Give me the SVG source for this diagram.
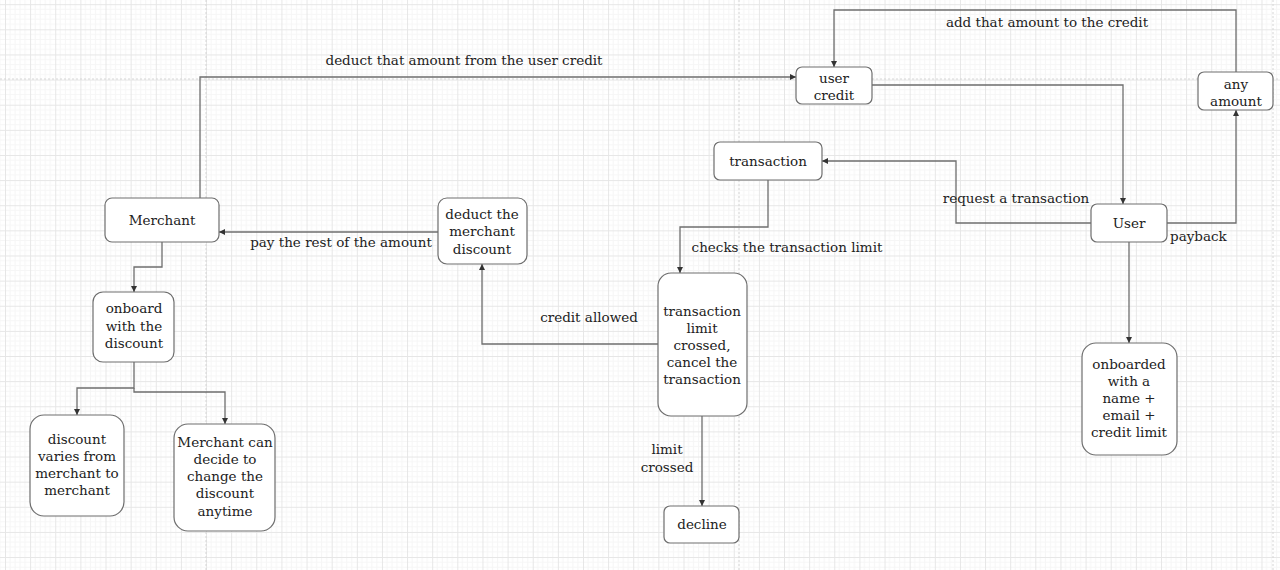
<svg xmlns="http://www.w3.org/2000/svg" width="1280" height="570" viewBox="0 0 1280 570">
<style>
.box{fill:#fff;stroke:#6e6e6e;stroke-width:1.2}
.t{font-family:"DejaVu Serif","Liberation Serif",serif;font-size:13.5px;fill:#222;text-anchor:middle}
.tl{font-family:"DejaVu Serif","Liberation Serif",serif;font-size:13.5px;fill:#222;text-anchor:start}
.c{fill:none;stroke:#6e6e6e;stroke-width:1.3}
.pb{fill:none;stroke:#d6d6d6;stroke-width:1;stroke-dasharray:2 2}
</style>
<defs>
<pattern id="grid" patternUnits="userSpaceOnUse" x="5" y="4.2" width="25.13" height="25.13">
<path d="M5.03 0V25.13M10.05 0V25.13M15.08 0V25.13M20.1 0V25.13M0 5.03H25.13M0 10.05H25.13M0 15.08H25.13M0 20.1H25.13" stroke="#f6f6f6" stroke-width="1"/>
<path d="M0.5 0V25.13M0 0.5H25.13" stroke="#e6e6e6" stroke-width="1"/>
</pattern>
<marker id="arr" viewBox="0 0 8 8" refX="8" refY="4" markerWidth="6" markerHeight="6" orient="auto" markerUnits="userSpaceOnUse">
<path d="M0 0L8 4L0 8Z" fill="#333"/>
</marker>
</defs>
<rect width="1280" height="570" fill="#fff"/>
<rect width="1280" height="570" fill="url(#grid)"/>
<path class="pb" d="M0 79H1280M206 0V570M739 0V570M1273 0V570"/>

<g id="connectors">
<path class="c" d="M200 198V77H796" marker-end="url(#arr)"/>
<text class="t" x="464" y="65">deduct that amount from the user credit</text>
<path class="c" d="M872 85H1123V204" marker-end="url(#arr)"/>
<path class="c" d="M1236 72V10H834V67" marker-end="url(#arr)"/>
<text class="t" x="1047" y="27">add that amount to the credit</text>
<path class="c" d="M1167 223H1236V110" marker-end="url(#arr)"/>
<text class="tl" x="1170" y="241">payback</text>
<path class="c" d="M1091 223H956V161H822" marker-end="url(#arr)"/>
<text class="t" x="1016" y="203">request a transaction</text>
<path class="c" d="M768 180V227H680V273" marker-end="url(#arr)"/>
<text class="t" x="787" y="252">checks the transaction limit</text>
<path class="c" d="M658 344H482V264" marker-end="url(#arr)"/>
<text class="t" x="589" y="322">credit allowed</text>
<path class="c" d="M438 232H219" marker-end="url(#arr)"/>
<text class="t" x="341" y="247">pay the rest of the amount</text>
<path class="c" d="M162 242V267H134V292" marker-end="url(#arr)"/>
<path class="c" d="M134 362V388H77V415" marker-end="url(#arr)"/>
<path class="c" d="M134 388V392H225V424" marker-end="url(#arr)"/>
<path class="c" d="M702 416V506" marker-end="url(#arr)"/>
<text class="t" x="667" y="454">limit</text>
<text class="t" x="667" y="472">crossed</text>
<path class="c" d="M1129 242V343" marker-end="url(#arr)"/>
</g>

<g id="user-credit">
<rect class="box" x="796" y="67" width="76" height="37" rx="6"/>
<text class="t" x="834" y="83">user</text>
<text class="t" x="834" y="100">credit</text>
</g>
<g id="any-amount">
<rect class="box" x="1198" y="72" width="75" height="38" rx="6"/>
<text class="t" x="1236" y="89">any</text>
<text class="t" x="1236" y="106">amount</text>
</g>
<g id="transaction">
<rect class="box" x="714" y="142" width="108" height="38" rx="6"/>
<text class="t" x="768" y="166">transaction</text>
</g>
<g id="user">
<rect class="box" x="1091" y="204" width="76" height="38" rx="6"/>
<text class="t" x="1129" y="228">User</text>
</g>
<g id="merchant">
<rect class="box" x="105" y="198" width="114" height="44" rx="7"/>
<text class="t" x="162" y="225">Merchant</text>
</g>
<g id="deduct-discount">
<rect class="box" x="438" y="198" width="89" height="66" rx="9"/>
<text class="t" x="482" y="219">deduct the</text>
<text class="t" x="482" y="236">merchant</text>
<text class="t" x="482" y="254">discount</text>
</g>
<g id="limit-check">
<rect class="box" x="658" y="273" width="89" height="143" rx="13"/>
<text class="t" x="702" y="316">transaction</text>
<text class="t" x="702" y="333">limit</text>
<text class="t" x="702" y="350">crossed,</text>
<text class="t" x="702" y="367">cancel the</text>
<text class="t" x="702" y="384">transaction</text>
</g>
<g id="decline">
<rect class="box" x="664" y="506" width="75" height="37" rx="6"/>
<text class="t" x="702" y="529">decline</text>
</g>
<g id="onboard-discount">
<rect class="box" x="93" y="292" width="81" height="70" rx="10"/>
<text class="t" x="134" y="313">onboard</text>
<text class="t" x="134" y="331">with the</text>
<text class="t" x="134" y="348">discount</text>
</g>
<g id="discount-varies">
<rect class="box" x="30" y="415" width="94" height="101" rx="14"/>
<text class="t" x="77" y="444">discount</text>
<text class="t" x="77" y="461">varies from</text>
<text class="t" x="77" y="478">merchant to</text>
<text class="t" x="77" y="495">merchant</text>
</g>
<g id="merchant-can-decide">
<rect class="box" x="174" y="424" width="101" height="107" rx="14"/>
<text class="t" x="225" y="447">Merchant can</text>
<text class="t" x="225" y="464">decide to</text>
<text class="t" x="225" y="481">change the</text>
<text class="t" x="225" y="498">discount</text>
<text class="t" x="225" y="516">anytime</text>
</g>
<g id="user-onboarded">
<rect class="box" x="1082" y="343" width="95" height="112" rx="14"/>
<text class="t" x="1129" y="369">onboarded</text>
<text class="t" x="1129" y="386">with a</text>
<text class="t" x="1129" y="403">name +</text>
<text class="t" x="1129" y="420">email +</text>
<text class="t" x="1129" y="437">credit limit</text>
</g>
</svg>
